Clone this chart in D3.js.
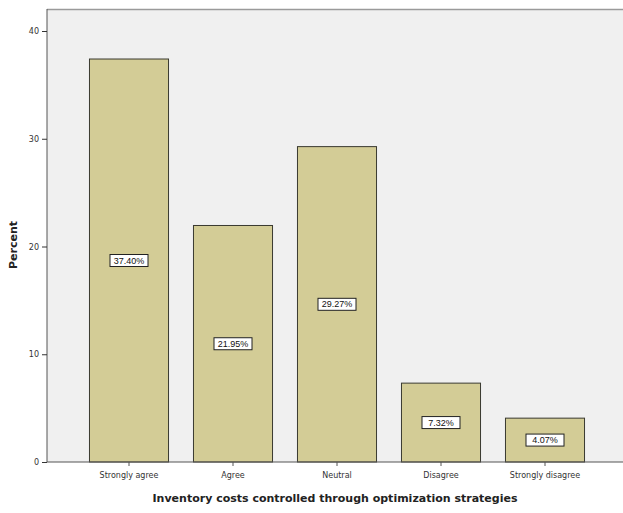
<!DOCTYPE html>
<meta charset="utf-8">
<style>
body { margin: 0; background: #fff; }
.tick text { font-family: 'DejaVu Sans', sans-serif; font-size: 8px; fill: #333; }
.axis-title { font-family: 'DejaVu Sans', sans-serif; font-weight: bold; font-size: 11px; fill: #222; }
.lbl { font-family: 'Liberation Sans', Arial, sans-serif; font-size: 9px; fill: #111; }
</style>
<script src="https://d3js.org/d3.v7.min.js"></script>
<div id="chart"></div>
<script>
// categories and percentages
var categories = ["Strongly agree", "Agree", "Neutral", "Disagree", "Strongly disagree"];
var percents = [37.40, 21.95, 29.27, 7.32, 4.07];
var yTicks = [0, 10, 20, 30, 40];

var W = 623, H = 513;
var plot = {left: 47, top: 9, right: 623, bottom: 462};

var svg = d3.select("#chart").append("svg")
    .attr("width", W).attr("height", H);

// plot background
svg.append("rect")
    .attr("x", plot.left).attr("y", plot.top)
    .attr("width", plot.right - plot.left).attr("height", plot.bottom - plot.top)
    .attr("fill", "#f0f0f0");
svg.append("line")
    .attr("x1", plot.left).attr("x2", plot.right)
    .attr("y1", plot.top + 0.5).attr("y2", plot.top + 0.5)
    .attr("stroke", "#9a9a9a").attr("stroke-width", 1.5);

var x = d3.scaleBand()
    .domain(categories)
    .range([77, 597])
    .paddingInner(0.24)
    .paddingOuter(0.12);

var y = d3.scaleLinear()
    .domain([0, 40])
    .range([plot.bottom, 31]);

// bars
svg.append("g").selectAll("rect")
    .data(categories)
    .enter().append("rect")
    .attr("x", function(d) { return x(d); })
    .attr("y", function(d, i) { return y(percents[i]); })
    .attr("width", x.bandwidth())
    .attr("height", function(d, i) { return plot.bottom - y(percents[i]); })
    .attr("fill", "#d3cc96")
    .attr("stroke", "#3a3a30")
    .attr("stroke-width", 1);

// value labels with boxes
var lab = svg.append("g").selectAll("g")
    .data(categories)
    .enter().append("g")
    .attr("transform", function(d, i) {
        return "translate(" + (x(d) + x.bandwidth() / 2) + "," + y(percents[i] / 2) + ")";
    });
lab.append("rect")
    .attr("x", -19).attr("y", -6)
    .attr("width", 38).attr("height", 12)
    .attr("fill", "#fff").attr("stroke", "#222").attr("stroke-width", 1);
lab.append("text")
    .attr("class", "lbl")
    .attr("text-anchor", "middle")
    .attr("dy", "0.35em")
    .text(function(d, i) { return percents[i].toFixed(2) + "%"; });

// axes
svg.append("g")
    .attr("transform", "translate(0," + plot.bottom + ")")
    .call(d3.axisBottom(x).tickSize(4).tickSizeOuter(0).tickPadding(6))
    .call(function(g) {
        g.select(".domain").attr("stroke", "#555").attr("d", "M" + plot.left + ",0H" + plot.right);
        g.selectAll(".tick line").attr("stroke", "#555");
    });

svg.append("g")
    .attr("transform", "translate(" + plot.left + ",0)")
    .call(d3.axisLeft(y).tickValues(yTicks).tickSize(5).tickSizeOuter(0).tickPadding(3))
    .call(function(g) {
        g.select(".domain").attr("stroke", "#555").attr("d", "M0," + plot.top + "V" + plot.bottom);
        g.selectAll(".tick line").attr("stroke", "#333");
    });

// axis titles
svg.append("text")
    .attr("class", "axis-title")
    .attr("x", 335).attr("y", 502)
    .attr("text-anchor", "middle")
    .text("Inventory costs controlled through optimization strategies");

svg.append("text")
    .attr("class", "axis-title")
    .attr("transform", "translate(17,245)rotate(-90)")
    .attr("text-anchor", "middle")
    .text("Percent");
</script>
